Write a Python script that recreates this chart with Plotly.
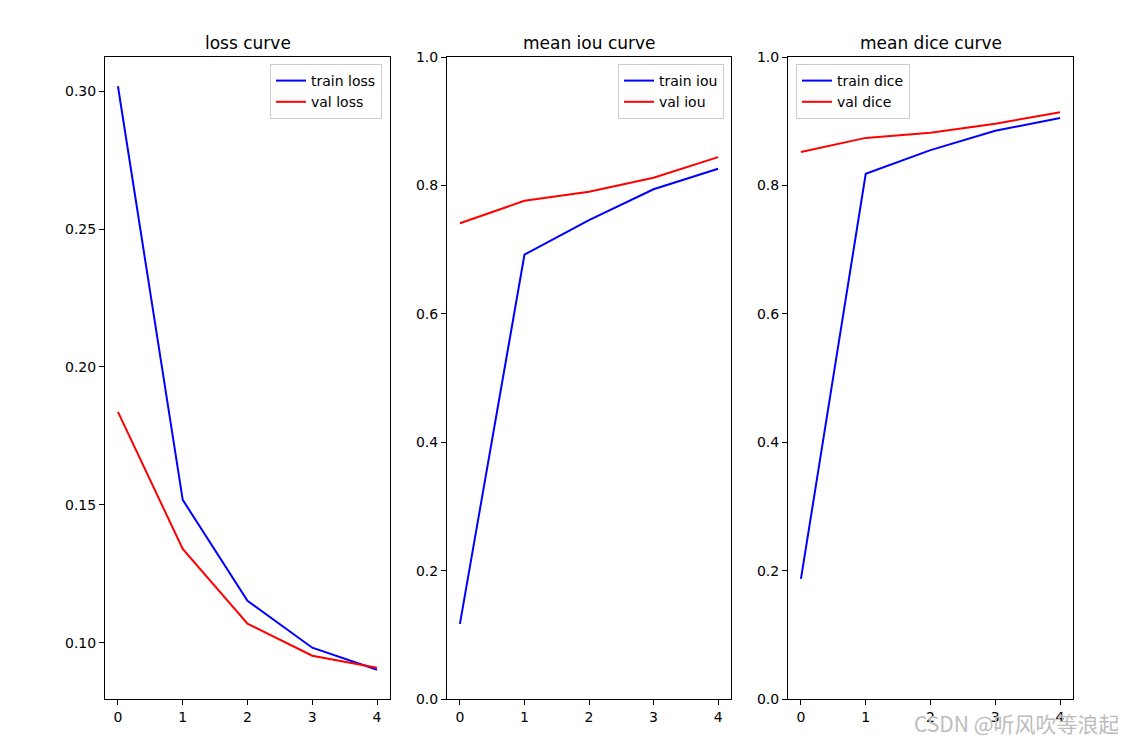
import plotly.graph_objects as go

epochs = [0, 1, 2, 3, 4]
train_loss = [0.3018, 0.1518, 0.1152, 0.0982, 0.0902]
val_loss = [0.1837, 0.1340, 0.1069, 0.0953, 0.0909]
train_iou = [0.117, 0.692, 0.746, 0.794, 0.826]
val_iou = [0.741, 0.776, 0.790, 0.812, 0.844]
train_dice = [0.187, 0.818, 0.855, 0.885, 0.905]
val_dice = [0.852, 0.874, 0.882, 0.896, 0.914]

titles = ["loss curve", "mean iou curve", "mean dice curve"]
names = [("train loss", "val loss"), ("train iou", "val iou"), ("train dice", "val dice")]
series = [(train_loss, val_loss), (train_iou, val_iou), (train_dice, val_dice)]

OFF = 8  # page body margin
W, H = 1126 - OFF, 746 - OFF
ml, mr, mt, mb = 105 - OFF, 53, 57 - OFF, 47
pw = W - ml - mr
ph = H - mt - mb
panels_px = [(105, 390), (447, 731), (788, 1073)]
domains = [[(a - 105) / pw, (b - 105) / pw] for a, b in panels_px]

font = "DejaVu Sans"
fig = go.Figure()
legend_names = ["legend", "legend2", "legend3"]
for i in range(3):
    ax = "" if i == 0 else str(i + 1)
    tr, va = series[i]
    fig.add_trace(go.Scatter(x=epochs, y=tr, mode="lines", name=names[i][0],
                             line=dict(color="#0000ff", width=2),
                             xaxis="x" + ax, yaxis="y" + ax, legend=legend_names[i]))
    fig.add_trace(go.Scatter(x=epochs, y=va, mode="lines", name=names[i][1],
                             line=dict(color="#ff0000", width=2),
                             xaxis="x" + ax, yaxis="y" + ax, legend=legend_names[i]))

axis_common = dict(showgrid=False, zeroline=False, showline=True, linecolor="black",
                   linewidth=1, mirror=True, ticks="outside", ticklen=5, tickcolor="black",
                   tickfont=dict(family=font, size=14, color="black"))

layout = dict(width=W, height=H, plot_bgcolor="white", paper_bgcolor="white",
              margin=dict(l=ml, r=mr, t=mt, b=mb), font=dict(family=font, color="black"))

for i in range(3):
    ax = "" if i == 0 else str(i + 1)
    layout["xaxis" + ax] = dict(domain=domains[i], anchor="y" + ax, range=[-0.2, 4.2],
                                dtick=1, tick0=0, **axis_common)
    if i == 0:
        layout["yaxis" + ax] = dict(domain=[0, 1], anchor="x" + ax, range=[0.0796, 0.3124],
                                    dtick=0.05, tick0=0.1, tickformat=".2f", **axis_common)
    else:
        layout["yaxis" + ax] = dict(domain=[0, 1], anchor="x" + ax, range=[0, 1],
                                    dtick=0.2, tick0=0, tickformat=".1f", **axis_common)

leg_common = dict(bgcolor="rgba(255,255,255,0.8)", bordercolor="#cccccc", borderwidth=1,
                  font=dict(family=font, size=14, color="black"), yanchor="top",
                  y=1 - 7 / ph, tracegroupgap=0, itemwidth=30)
layout["legend"] = dict(x=(382 - 105) / pw, xanchor="right", **leg_common)
layout["legend2"] = dict(x=(724 - 105) / pw, xanchor="right", **leg_common)
layout["legend3"] = dict(x=(796 - 105) / pw, xanchor="left", **leg_common)

annotations = []
for i in range(3):
    cx = (domains[i][0] + domains[i][1]) / 2
    annotations.append(dict(text=titles[i], x=cx, y=1 + (57 - 43) / ph, xref="paper", yref="paper",
                            xanchor="center", yanchor="middle", showarrow=False,
                            font=dict(family=font, size=17, color="black")))
annotations.append(dict(text="CSDN @听风吹等浪起", x=(1122 - 105) / pw, y=-(723 - 699) / ph,
                        xref="paper", yref="paper", xanchor="right", yanchor="middle",
                        showarrow=False,
                        font=dict(family="Noto Sans CJK SC", size=21, color="#bdbdbd")))
layout["annotations"] = annotations

fig.update_layout(**layout)
fig.write_html("out.html")
